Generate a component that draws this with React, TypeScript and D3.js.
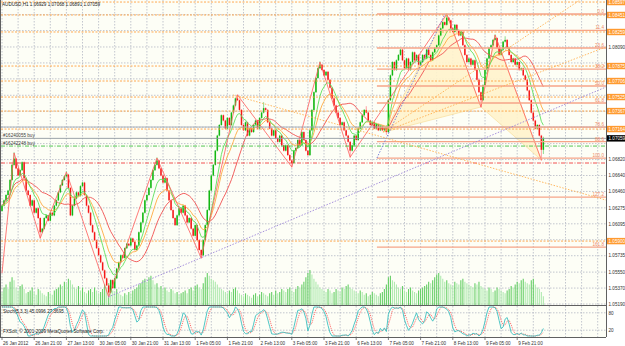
import React from 'react';
import * as d3 from 'd3';

// AUDUSD H1, one close per bar from 26 Jan 2012 05:00, in pips above 1.05000
const firstOpenPips = 124;
const closePips = [
  130, 136, 142, 147, 159, 176, 183, 172, 164, 170,
  179, 161, 147, 142, 130, 136, 122, 127, 116, 100,
  104, 116, 119, 113, 122, 119, 130, 136, 145, 153,
  159, 163, 165, 150, 119, 130, 138, 145, 141, 152,
  156, 142, 130, 122, 108, 100, 91, 82, 74, 66,
  57, 48, 40, 32, 46, 37, 48, 59, 66, 74,
  71, 82, 87, 85, 93, 89, 80, 85, 100, 111,
  122, 136, 142, 150, 159, 170, 176, 181, 172, 164,
  156, 161, 147, 136, 125, 116, 108, 119, 127, 122,
  130, 119, 111, 116, 104, 96, 108, 91, 80, 74,
  91, 108, 125, 147, 164, 176, 192, 209, 221, 232,
  226, 217, 229, 221, 235, 243, 251, 249, 238, 221,
  215, 224, 209, 217, 213, 221, 226, 217, 229, 235,
  240, 238, 224, 217, 209, 215, 206, 202, 209, 198,
  192, 198, 187, 181, 178, 192, 195, 204, 198, 213,
  204, 192, 187, 215, 238, 258, 274, 285, 289, 283,
  277, 281, 272, 263, 251, 243, 235, 229, 221, 224,
  215, 209, 202, 192, 198, 209, 204, 217, 224, 232,
  238, 235, 226, 221, 224, 217, 222, 215, 220, 215,
  217, 213, 249, 277, 292, 283, 294, 300, 306, 294,
  285, 296, 283, 292, 303, 294, 300, 289, 292, 300,
  296, 306, 300, 294, 303, 308, 311, 322, 330, 337,
  334, 342, 339, 330, 326, 334, 328, 322, 326, 311,
  300, 292, 296, 289, 294, 283, 272, 258, 249, 266,
  283, 296, 308, 311, 317, 319, 308, 300, 306, 315,
  317, 308, 300, 292, 296, 289, 292, 283, 285, 277,
  272, 260, 249, 235, 226, 217, 221, 209, 193, 205.9,
];

// tick volume per bar
const volumes = [
  45, 60, 70, 55, 80, 95, 85, 60, 50, 65,
  70, 55, 40, 45, 50, 60, 45, 35, 55, 50,
  40, 35, 30, 45, 40, 35, 50, 55, 60, 70,
  65, 80, 75, 90, 85, 70, 60, 55, 65, 50,
  60, 45, 40, 50, 55, 45, 60, 50, 40, 45,
  55, 70, 60, 75, 65, 50, 45, 55, 40, 35,
  30, 40, 35, 45, 40, 50, 55, 60, 70, 75,
  85, 90, 80, 95, 100, 85, 70, 75, 60, 65,
  55, 60, 50, 45, 55, 50, 40, 45, 35, 40,
  45, 50, 40, 55, 60, 50, 65, 70, 60, 55,
  75, 95, 110, 100, 90, 85, 80, 70, 60, 55,
  50, 45, 40, 50, 45, 55, 60, 50, 40, 35,
  30, 40, 35, 30, 25, 35, 40, 30, 35, 45,
  40, 35, 30, 40, 45, 35, 50, 40, 45, 55,
  50, 45, 55, 60, 50, 45, 55, 65, 60, 70,
  80, 95, 110, 120, 105, 90, 80, 70, 60, 55,
  50, 45, 55, 50, 40, 45, 55, 50, 45, 60,
  55, 65, 70, 60, 55, 50, 45, 40, 50, 45,
  35, 40, 30, 35, 45, 40, 35, 30, 40, 45,
  55, 70, 95, 100, 85, 80, 70, 60, 55, 65,
  50, 45, 55, 60, 50, 45, 40, 50, 55, 60,
  65, 70, 80, 75, 85, 95, 105, 110, 100, 90,
  80, 85, 75, 70, 65, 80, 75, 70, 85, 90,
  80, 75, 70, 65, 60, 75, 70, 80, 65, 60,
  55, 50, 60, 55, 45, 50, 60, 55, 50, 45,
  40, 50, 55, 65, 60, 70, 80, 75, 85, 90,
  80, 75, 70, 85, 90, 70, 60, 55, 45, 30,
];

// wick extremes where they reach beyond the body [bar, price]
const wickHighs: [number, number][] = [
  [6, 1.06894], [32, 1.06679], [77, 1.06837], [117, 1.07548], [130, 1.07458],
  [158, 1.0792], [181, 1.07413], [221, 1.08462], [245, 1.08225], [250, 1.08202], [269, 1.07068],
];
const wickLows: [number, number][] = [
  [19, 1.05934], [53, 1.05269], [99, 1.05709], [144, 1.06736], [173, 1.06848],
  [191, 1.07108], [238, 1.07413], [268, 1.06815], [269, 1.06891],
];

const timeLabels = [
  '26 Jan 2012', '26 Jan 21:00', '27 Jan 13:00', '30 Jan 05:00', '30 Jan 21:00',
  '31 Jan 13:00', '1 Feb 05:00', '1 Feb 21:00', '2 Feb 13:00', '3 Feb 05:00',
  '3 Feb 21:00', '6 Feb 13:00', '7 Feb 05:00', '7 Feb 21:00', '8 Feb 13:00',
  '9 Feb 05:00', '9 Feb 21:00',
];
const priceTicks = [
  1.0519, 1.0537, 1.0555, 1.05735, 1.05915, 1.06095, 1.06275, 1.0646, 1.0664,
  1.0682, 1.07, 1.07185, 1.07365, 1.07545, 1.0773, 1.0791, 1.0809, 1.08275, 1.08455,
];

// horizontal support / resistance lines
const srLevels = [1.08597, 1.08451, 1.08259, 1.07875, 1.07706, 1.07525, 1.07367, 1.07164, 1.059];
const askLevel = 1.07187;
const bidPrice = 1.07059;
const order1 = { price: 1.07059, text: '#16240055 buy' };
const order2 = { price: 1.06972, text: '#16242248 buy' };
const stopLevel = 1.06781;

// fibonacci retracement
const fibHigh = 1.08462;
const fibLow = 1.06837;
const fibStartBar = 186.3;
const fibRatios = [0, 11.4, 23.6, 38.2, 50.0, 61.8, 78.6, 88.6, 100.0, 127.2, 161.8];

// zigzag swing points [bar, price]
const zigzag: [number, number][] = [
  [0, 1.05539], [6, 1.06894], [19, 1.05934], [32, 1.06679], [53, 1.05269],
  [77, 1.06837], [99, 1.05709], [117, 1.07548], [144, 1.06736], [158, 1.0792],
  [173, 1.06848], [221, 1.08462], [238, 1.07413], [245, 1.08225], [268, 1.06815],
];

// harmonic pattern X A B C D
const patternXAB: [number, number][] = [[190, 1.0713], [221, 1.08462], [238, 1.07413]];
const patternBCD: [number, number][] = [[238, 1.07413], [245, 1.08225], [268, 1.06815]];

// trend lines [bar1, price1, bar2, price2]
const purpleTrend = [52.7, 1.05269, 300.1, 1.07638];
const fibDiagonal = [186.3, 1.06837, 220.1, 1.08462];
const orangeFall = [114.8, 1.07548, 300.1, 1.06363];
const orangeRiseA = [189.3, 1.0713, 287.2, 1.0862];
const orangeRiseB = [189.3, 1.0713, 300.1, 1.0809];

const stochText = 'Stoch(5,3,3) 45.0996 27.3695';

const toPrice = (p: number) => 1.05 + p / 10000;

function ema(values: number[], period: number) {
  const k = 2 / (period + 1);
  const out: number[] = [];
  values.forEach((v, i) => out.push(i === 0 ? v : v * k + out[i - 1] * (1 - k)));
  return out;
}
function sma(values: number[], period: number) {
  return values.map((_, i) => d3.mean(values.slice(Math.max(0, i - period + 1), i + 1)) as number);
}

const highMap = new Map(wickHighs);
const lowMap = new Map(wickLows);
const bars = closePips.map((c, i) => {
  const open = toPrice(i === 0 ? firstOpenPips : closePips[i - 1]);
  const close = toPrice(c);
  return {
    i, open, close,
    high: highMap.get(i) ?? Math.max(open, close),
    low: lowMap.get(i) ?? Math.min(open, close),
    volume: volumes[i],
  };
});
const closes = bars.map(b => b.close);
const maFast = ema(closes, 8);
const maMid = ema(closes, 14);
const maSlow = sma(closes, 21);

// Stochastic 5,3,3
const kRaw = bars.map((b, i) => {
  let num = 0, den = 0;
  for (let s = 0; s < 3; s++) {
    const j = Math.max(0, i - s);
    const win = bars.slice(Math.max(0, j - 4), j + 1);
    const hh = d3.max(win, d => d.high) as number;
    const ll = d3.min(win, d => d.low) as number;
    num += bars[j].close - ll;
    den += hh - ll;
  }
  return den === 0 ? 50 : (num / den) * 100;
});
const dSig = sma(kRaw, 3);

export default function App() {
  const plotRight = 606;
  const mainBottom = 305;
  const step = 2.0125;
  const x = d3.scaleLinear().domain([0, 1]).range([2, 2 + step]);
  const y = d3.scaleLinear().domain([1.05179, 1.0862]).range([mainBottom, 0]);
  const sy = d3.scaleLinear().domain([0, 100]).range([336, 307]);
  const vy = d3.scaleLinear().domain([0, 120]).range([mainBottom, 270]);

  const font = 'Liberation Sans, Arial, sans-serif';
  const fs = 4.6;
  const grid = '#B4B8C4';

  const vGrid: number[] = [];
  for (let i = 0; x(i) < plotRight; i += 8) vGrid.push(x(i));

  const seriesLine = d3.line<number>().x((_, i) => x(i)).y(d => y(d));
  const stochLine = d3.line<number>().x((_, i) => x(i)).y(d => sy(d));
  const ptLine = d3.line<[number, number]>().x(d => x(d[0])).y(d => y(d[1]));
  const seg = (s: number[]) => ({ x1: x(s[0]), y1: y(s[1]), x2: x(s[2]), y2: y(s[3]) });

  const fibLevels = fibRatios.map(r => ({ r, p: fibHigh - (r / 100) * (fibHigh - fibLow) }));

  // axis boxes cover the grid labels underneath them
  const boxPrices = [...srLevels, bidPrice];
  const visibleTicks = priceTicks.filter(p => boxPrices.every(b => Math.abs(y(b) - y(p)) > 5.6));

  const axisBox = (p: number, fill: string, key: string) => (
    <g key={key}>
      <rect x={607} y={y(p) - 3.2} width={18} height={6.4} fill={fill} />
      <text x={608.5} y={y(p) + 1.7} fontSize={fs} fill="#FFFFFF">{p.toFixed(5)}</text>
    </g>
  );

  return (
    <svg width={625} height={346} style={{ position: 'absolute', left: 0, top: 0, background: '#FFFFFF' }} fontFamily={font}>
      <defs>
        <clipPath id="mainClip"><rect x={1} y={0} width={plotRight - 1} height={mainBottom} /></clipPath>
        <clipPath id="stochClip"><rect x={1} y={306} width={plotRight - 1} height={31} /></clipPath>
      </defs>
      <rect x={0} y={0} width={plotRight} height={337} fill="#FDFEF6" />

      {/* grid */}
      {vGrid.map((gx, k) => (
        <g key={'vg' + k}>
          <line x1={gx} x2={gx} y1={0} y2={mainBottom} stroke={grid} strokeDasharray="1.5,1.5" strokeWidth={0.8} />
          <line x1={gx} x2={gx} y1={306} y2={337} stroke={grid} strokeDasharray="1.5,1.5" strokeWidth={0.8} />
        </g>
      ))}
      {priceTicks.map(p => (
        <line key={'hg' + p} x1={1} x2={plotRight} y1={y(p)} y2={y(p)} stroke={grid} strokeDasharray="1.5,1.5" strokeWidth={0.8} />
      ))}
      {[20, 80].map(v => (
        <line key={'sg' + v} x1={1} x2={plotRight} y1={sy(v)} y2={sy(v)} stroke={grid} strokeDasharray="1.5,1.5" strokeWidth={0.8} />
      ))}

      <g clipPath="url(#mainClip)">
        {/* volumes */}
        {bars.map((b, i) => (
          <line key={'v' + i} x1={x(i)} x2={x(i)} y1={mainBottom} y2={vy(b.volume)}
            stroke={i > 0 && b.volume > bars[i - 1].volume ? '#66CF66' : '#B0EAB0'} strokeWidth={1.1} />
        ))}

        {/* harmonic pattern */}
        {[patternXAB, patternBCD].map((tri, k) => (
          <path key={'tri' + k} d={ptLine(tri) + 'Z'} fill="#FFF3CC" fillOpacity={0.9} stroke="#F8DE9C" strokeWidth={0.7} />
        ))}

        {/* candles */}
        {bars.map(b => {
          const up = b.close >= b.open;
          const cx = x(b.i);
          const top = Math.min(y(b.open), y(b.close));
          const bot = Math.max(y(b.open), y(b.close));
          return (
            <g key={'c' + b.i}>
              <line x1={cx} x2={cx} y1={y(b.high) - 0.8} y2={y(b.low) + 0.8} stroke={up ? '#8EDA8E' : '#FFA0A0'} strokeWidth={1} />
              <rect x={cx - 0.75} y={top} width={1.5} height={Math.max(bot - top, 0.8)} fill={up ? '#12B812' : '#F41818'} />
            </g>
          );
        })}

        {/* moving averages and zigzag */}
        <path d={seriesLine(maSlow) as string} fill="none" stroke="#F05050" strokeWidth={0.9} />
        <path d={seriesLine(maMid) as string} fill="none" stroke="#FFAA40" strokeWidth={0.9} />
        <path d={seriesLine(maFast) as string} fill="none" stroke="#5CE05C" strokeWidth={0.9} />
        <path d={ptLine(zigzag) as string} fill="none" stroke="#FF5A5A" strokeWidth={0.8} />

        {/* horizontal lines */}
        {srLevels.map(p => (
          <line key={'sr' + p} x1={1} x2={plotRight} y1={y(p)} y2={y(p)} stroke="#FFA040" strokeDasharray="2,1.5" strokeWidth={0.9} />
        ))}
        <line x1={1} x2={plotRight} y1={y(askLevel)} y2={y(askLevel)} stroke="#A0A8B4" strokeWidth={0.9} />
        <line x1={1} x2={plotRight} y1={y(bidPrice)} y2={y(bidPrice)} stroke="#9098A0" strokeWidth={0.9} />
        <line x1={1} x2={plotRight} y1={y(order2.price)} y2={y(order2.price)} stroke="#40C040" strokeDasharray="4,1.5,1,1.5" strokeWidth={0.9} />
        <line x1={1} x2={plotRight} y1={y(stopLevel)} y2={y(stopLevel)} stroke="#F04040" strokeDasharray="4,1.5,1,1.5" strokeWidth={0.9} />

        {/* fibonacci */}
        {fibLevels.map(f => (
          <g key={'fib' + f.r}>
            <line x1={x(fibStartBar)} x2={plotRight} y1={y(f.p)} y2={y(f.p)} stroke="#F6A488" strokeWidth={1.3} />
            <text x={604} y={y(f.p) - 1} fontSize={fs} fill="#F08A66" textAnchor="end">{f.r.toFixed(1)}</text>
          </g>
        ))}

        {/* trend lines */}
        <line {...seg(purpleTrend)} stroke="#9C84D8" strokeDasharray="1.5,1.5" strokeWidth={0.9} />
        <line {...seg(fibDiagonal)} stroke="#6A74D8" strokeDasharray="1.5,1.5" strokeWidth={0.9} />
        <line {...seg(orangeFall)} stroke="#FFB050" strokeDasharray="1.5,1.5" strokeWidth={0.9} />
        <line {...seg(orangeRiseA)} stroke="#FFB050" strokeDasharray="1.5,1.5" strokeWidth={0.9} />
        <line {...seg(orangeRiseB)} stroke="#FFB050" strokeDasharray="1.5,1.5" strokeWidth={0.9} />
      </g>

      {/* order labels and title */}
      <text x={3} y={y(order1.price) - 1.5} fontSize={fs} fill="#404040">{order1.text}</text>
      <text x={3} y={y(order2.price) - 1.5} fontSize={fs} fill="#404040">{order2.text}</text>
      <text x={2} y={6} fontSize={fs} fill="#202020">AUDUSD,H1  1.06929 1.07068 1.06891 1.07059</text>

      {/* stochastic */}
      <g clipPath="url(#stochClip)">
        <path d={stochLine(dSig) as string} fill="none" stroke="#FF5050" strokeDasharray="1,1" strokeWidth={0.9} />
        <path d={stochLine(kRaw) as string} fill="none" stroke="#3CC0C0" strokeWidth={0.9} />
      </g>
      <text x={3} y={313} fontSize={fs} fill="#202020">{stochText}</text>
      <text x={3} y={333} fontSize={fs} fill="#202020">FXSolt, © 2001-2009 MetaQuotes Software Corp.</text>

      {/* frame */}
      <line x1={0.5} x2={0.5} y1={0} y2={337} stroke="#606060" />
      <line x1={plotRight + 0.5} x2={plotRight + 0.5} y1={0} y2={337} stroke="#606060" />
      <line x1={0} x2={plotRight} y1={mainBottom + 0.5} y2={mainBottom + 0.5} stroke="#606060" />
      <line x1={0} x2={plotRight} y1={337.5} y2={337.5} stroke="#606060" />

      {/* price axis */}
      {visibleTicks.map(p => (
        <text key={'pt' + p} x={608.5} y={y(p) + 1.7} fontSize={fs} fill="#303030">{p.toFixed(5)}</text>
      ))}
      {srLevels.map(p => axisBox(p, '#FF9A30', 'ab' + p))}
      {axisBox(bidPrice, '#000000', 'bid')}
      {[80, 20].map(v => (
        <text key={'sl' + v} x={608.5} y={sy(v) + 1.7} fontSize={fs} fill="#303030">{v}</text>
      ))}

      {/* time axis */}
      {timeLabels.map((t, k) => (
        <g key={'t' + k}>
          <line x1={x(k * 16)} x2={x(k * 16)} y1={337.5} y2={340} stroke="#606060" strokeWidth={0.8} />
          <text x={x(k * 16) + 1} y={344.5} fontSize={fs} fill="#303030">{t}</text>
        </g>
      ))}
    </svg>
  );
}
